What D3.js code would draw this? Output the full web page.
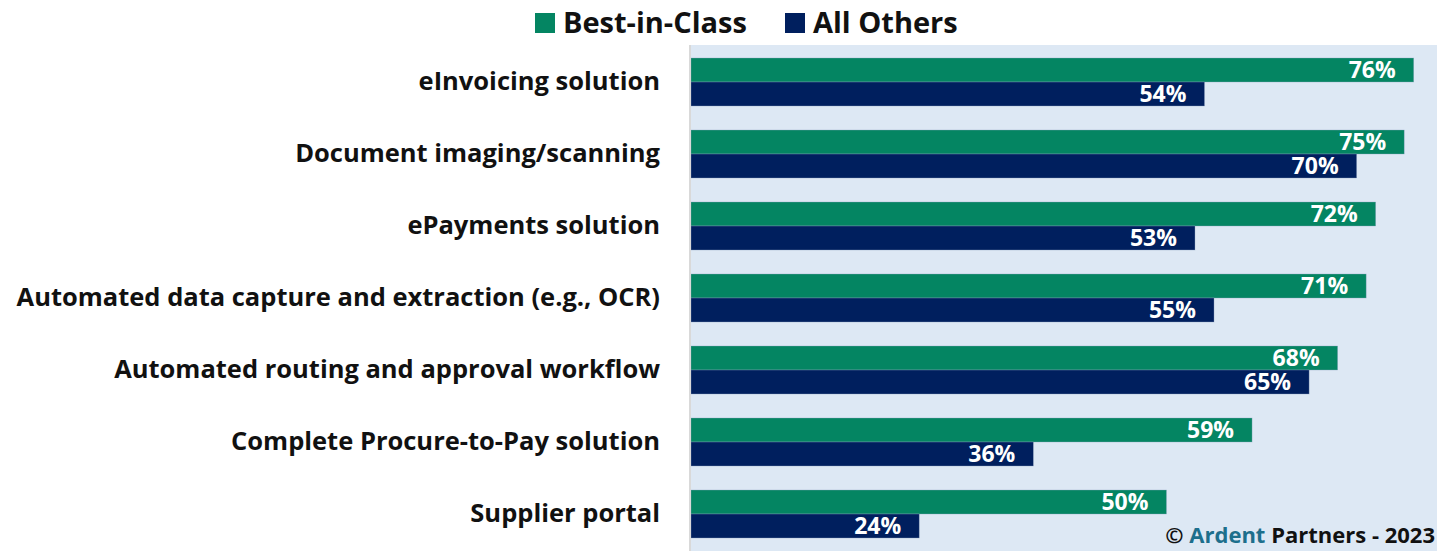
<!DOCTYPE html>
<html><head><meta charset="utf-8">
<script src="https://cdn.jsdelivr.net/npm/d3@7"></script>
<style>
html,body{margin:0;padding:0;background:#fff;}
svg{display:block;font-family:"Open Sans",Lato,sans-serif;}
</style></head>
<body><svg id="c" width="1437" height="551"></svg>
<script>
const categories = ["eInvoicing solution","Document imaging/scanning","ePayments solution","Automated data capture and extraction (e.g., OCR)","Automated routing and approval workflow","Complete Procure-to-Pay solution","Supplier portal"];
const bestInClass = [76,75,72,71,68,59,50];
const allOthers = [54,70,53,55,65,36,24];
const seriesNames = ["Best-in-Class","All Others"];
const colors = ["#048562","#001f5e"];

const svg = d3.select("#c");
const W = 1437, H = 551;
const plot = {left:690, right:1437, top:45, bottom:549};

svg.append("rect").attr("x",plot.left).attr("y",plot.top)
  .attr("width",plot.right-plot.left).attr("height",H-plot.top).attr("fill","#dde8f4");

const x = d3.scaleLinear().domain([0,78.45]).range([plot.left+1, plot.right]);
const y = d3.scaleBand().domain(categories).range([plot.top+1, plot.bottom+1]).paddingInner(24/72).paddingOuter(12/72);
const y1 = d3.scaleBand().domain(seriesNames).range([0, y.bandwidth()]);

const data = categories.map((c,i)=>({cat:c, vals:[bestInClass[i], allOthers[i]]}));

const g = svg.append("g");
data.forEach(d=>{
  d.vals.forEach((v,j)=>{
    const yy = y(d.cat)+y1(seriesNames[j]);
    g.append("rect").attr("x",x(0)).attr("y",yy).attr("width",x(v)-x(0)).attr("height",y1.bandwidth())
      .attr("fill",colors[j]).attr("stroke","#8fa3bf").attr("stroke-width",0.6).attr("stroke-opacity",0.6);
    g.append("text").attr("x",x(v)-18).attr("y",yy+y1.bandwidth()/2).attr("dy","0.36em")
      .attr("text-anchor","end").attr("fill","#fff").attr("font-weight",700).attr("font-size",23)
      .text(v+"%");
  });
});

// axis
const axis = d3.axisLeft(y).tickSize(0).tickPadding(30);
const ag = svg.append("g").attr("transform",`translate(${plot.left},0)`).call(axis);
ag.select(".domain").attr("stroke","#d9d9d9").attr("stroke-width",2).attr("d",`M0,${plot.top}V${H}`);
ag.selectAll("text").attr("font-size",25.5).attr("font-weight",700).attr("fill","#111")
  .attr("font-family","'Open Sans',Lato,sans-serif");

// legend
const leg = svg.append("g");
const legItems = [{x:535},{x:785}];
seriesNames.forEach((s,i)=>{
  leg.append("rect").attr("x",legItems[i].x).attr("y",13).attr("width",20).attr("height",20).attr("fill",colors[i]);
  leg.append("text").attr("x",legItems[i].x+28).attr("y",23).attr("dy","0.36em")
    .attr("font-size",29).attr("font-weight",700).attr("fill","#111").text(s);
});

// copyright
const cp = svg.append("text").attr("x",1435).attr("y",543).attr("text-anchor","end")
  .attr("font-size",22).attr("font-weight",700).attr("fill","#111");
cp.append("tspan").text("© ");
cp.append("tspan").attr("fill","#1d6f8c").text("Ardent");
cp.append("tspan").text(" Partners - 2023");
</script></body></html>
